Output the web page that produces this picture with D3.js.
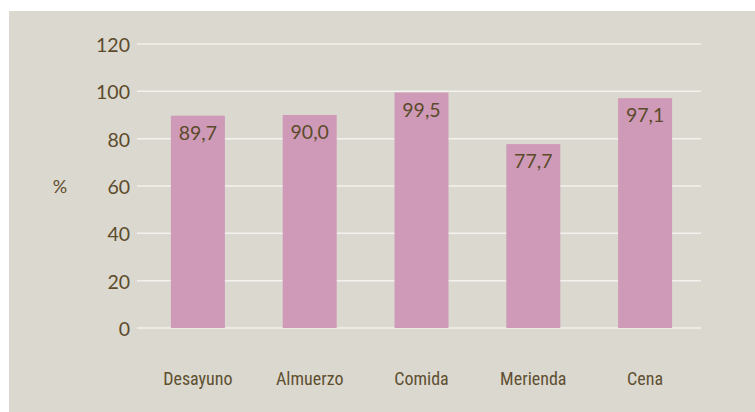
<!DOCTYPE html>
<html><head><meta charset="utf-8">
<script src="https://cdn.jsdelivr.net/npm/d3@7"></script>
<style>body{margin:0;background:#fff;}svg{display:block;}</style>
</head><body><svg id="c" width="755" height="412"></svg>
<script>
const categories = ["Desayuno","Almuerzo","Comida","Merienda","Cena"];
const values = [89.7, 90.0, 99.5, 77.7, 97.1];
const valueLabels = ["89,7","90,0","99,5","77,7","97,1"];
const yTicks = [0,20,40,60,80,100,120];

const svg = d3.select("#c");
const textColor = "#5b4b2b";
svg.append("rect").attr("x",9).attr("y",11).attr("width",746).attr("height",401).attr("fill","#dbd8d0");

const y = d3.scaleLinear().domain([0,120]).range([328,44]);
const x = d3.scaleBand().domain(categories).range([142,701]).paddingInner(0.517).paddingOuter(0.2585);

const grid = svg.append("g");
grid.selectAll("line").data(yTicks).join("line")
  .attr("x1",137).attr("x2",701)
  .attr("y1",d=>y(d)).attr("y2",d=>y(d))
  .attr("stroke","#f4f2ee").attr("stroke-width",1.5);

grid.selectAll("text").data(yTicks).join("text")
  .attr("x",130).attr("y",d=>y(d)+8)
  .attr("text-anchor","end").attr("fill",textColor)
  .style("font-family","Lato, sans-serif").style("font-size","19.5px")
  .text(d=>d);

svg.append("text").attr("x",60).attr("y",193).attr("text-anchor","middle")
  .attr("fill",textColor).style("font-family","Lato, sans-serif").style("font-size","18px").text("%");

const bw = 54;
svg.append("g").selectAll("rect").data(categories).join("rect")
  .attr("x",(d)=>x(d)+x.bandwidth()/2-bw/2).attr("width",bw)
  .attr("y",(d,i)=>y(values[i])).attr("height",(d,i)=>y(0)-y(values[i]))
  .attr("fill","#cf9ab8");

svg.append("g").selectAll("text").data(categories).join("text")
  .attr("x",d=>x(d)+x.bandwidth()/2).attr("y",(d,i)=>y(values[i])+24)
  .attr("text-anchor","middle").attr("fill",textColor)
  .style("font-family","Lato, sans-serif").style("font-size","19.5px")
  .text((d,i)=>valueLabels[i]);

svg.append("g").selectAll("text").data(categories).join("text")
  .attr("x",d=>x(d)+x.bandwidth()/2).attr("y",385)
  .attr("text-anchor","middle").attr("fill","#5e5030")
  .style("font-family","'Roboto Condensed', sans-serif").style("font-size","18px").style("font-weight","400")
  .text(d=>d);
</script></body></html>
